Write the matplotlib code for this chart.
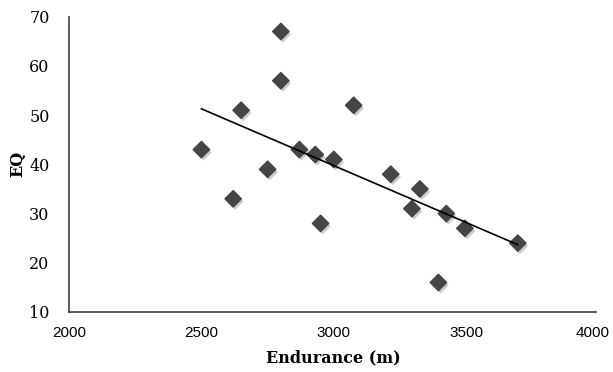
import numpy as np
import matplotlib
matplotlib.use("Agg")
import matplotlib.pyplot as plt
import matplotlib.patheffects as pe
import matplotlib.transforms as mtrans

# data
endurance = [2500, 2620, 2650, 2750, 2800, 2800, 2870, 2930, 2950, 3000,
             3075, 3215, 3295, 3325, 3395, 3425, 3495, 3695]
eq = [43, 33, 51, 39, 67, 57, 43, 42, 28, 41,
      52, 38, 31, 35, 16, 30, 27, 24]

x_ticks = [2000, 2500, 3000, 3500, 4000]
y_ticks = [10, 20, 30, 40, 50, 60, 70]

fig = plt.figure(figsize=(6.13, 3.72), dpi=100)
ax = fig.add_axes([0.1126, 0.1613, 0.8639, 0.7937])

# trend line
slope, icpt = np.polyfit(endurance, eq, 1)
xs = np.array([min(endurance), max(endurance)])
ax.plot(xs, slope * xs + icpt, color="black", lw=1.2, zorder=3)

ax.scatter(endurance, eq, marker="D", s=70, color="#454545", zorder=2,
           path_effects=[pe.SimplePatchShadow(offset=(1.5, -2),
                                              shadow_rgbFace="#999999",
                                              alpha=0.5),
                         pe.Normal()])

ax.set_xlim(2000, 4000)
ax.set_ylim(10, 70)
ax.set_xticks(x_ticks)
ax.set_yticks(y_ticks)
ax.set_xticklabels([str(t) for t in x_ticks], fontsize=11,
                   family="Liberation Sans")
ax.set_yticklabels([str(t) for t in y_ticks], fontsize=11.5,
                   family="DejaVu Serif")
ax.tick_params(length=0, pad=14)
ax.tick_params(axis="x", pad=10)

# the last x label sits a bit left so it stays inside the figure
lab = ax.get_xticklabels()[-1]
lab.set_transform(lab.get_transform() +
                  mtrans.ScaledTranslation(-6 / 100, 0, fig.dpi_scale_trans))

for s in ["top", "right"]:
    ax.spines[s].set_visible(False)
for s in ["left", "bottom"]:
    ax.spines[s].set_color("#404040")
    ax.spines[s].set_linewidth(1.2)
ax.spines["bottom"].set_bounds(2000, 3990)

ax.set_xlabel("Endurance (m)", fontsize=11.5, fontweight="bold",
              family="DejaVu Serif", labelpad=7)
ax.set_ylabel("EQ", fontsize=11.5, fontweight="bold",
              family="DejaVu Serif", labelpad=2)

fig.savefig("out.png", dpi=100)
